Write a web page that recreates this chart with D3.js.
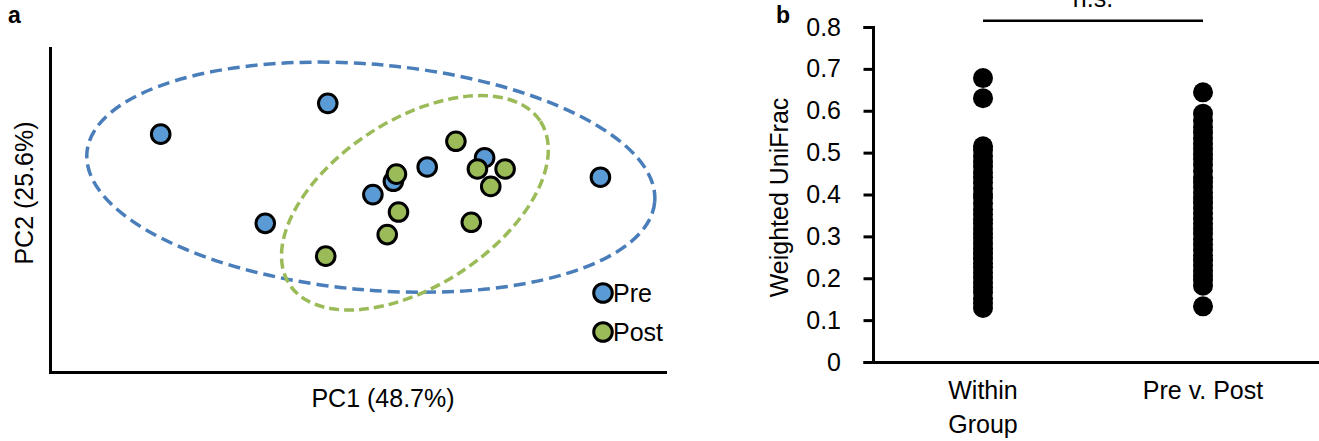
<!DOCTYPE html>
<html>
<head>
<meta charset="utf-8">
<script src="https://cdn.jsdelivr.net/npm/d3@7"></script>
<style>
  body { margin: 0; background: #fff; }
</style>
</head>
<body>
<script>
const FONT = '"Liberation Sans", Arial, Helvetica, sans-serif'

// panel a - PCoA coordinates per sample
const prePC1 = [-0.192, -0.029, -0.090, 0.124, 0.068, 0.237, 0.035, 0.015]
const prePC2 = [0.074, 0.104, -0.013, 0.051, 0.042, 0.032, 0.028, 0.015]
const postPC1 = [-0.031, 0.096, 0.117, 0.144, 0.038, 0.130, 0.040, 0.111, 0.029]
const postPC2 = [-0.045, 0.067, 0.040, 0.040, 0.035, 0.023, -0.002, -0.012, -0.024]

// confidence ellipses: centre, semi axes (PC units), angle (deg, counter-clockwise)
const preEllipse = [0.013, 0.032, 0.278, 0.110, -5]
const postEllipse = [0.056, 0.007, 0.146, 0.081, 33]

const groups = ["Pre", "Post"]
const groupFill = ["#5b9bd5", "#9bbb59"]
const groupStroke = ["#4a7ebb", "#9bbb59"]

// panel b - weighted UniFrac distances
const categoryLines = [["Within", "Group"], ["Pre v. Post"]]
const categories = categoryLines.map(l => l.join(" "))
const withinGroup = [0.678, 0.630, 0.515, 0.506, 0.492, 0.478, 0.466, 0.452, 0.441, 0.428,
  0.415, 0.401, 0.392, 0.379, 0.365, 0.353, 0.341, 0.331, 0.318, 0.306, 0.296, 0.283, 0.271,
  0.261, 0.248, 0.236, 0.226, 0.213, 0.201, 0.190, 0.178, 0.166, 0.152, 0.141, 0.129]
const preVsPost = [0.644, 0.593, 0.576, 0.561, 0.548, 0.535, 0.521, 0.510, 0.497, 0.485,
  0.471, 0.456, 0.441, 0.430, 0.418, 0.405, 0.392, 0.381, 0.368, 0.355, 0.343, 0.331, 0.318,
  0.306, 0.293, 0.281, 0.268, 0.255, 0.243, 0.231, 0.218, 0.206, 0.196, 0.182, 0.133]
const yTicks = [0, 0.1, 0.2, 0.3, 0.4, 0.5, 0.6, 0.7, 0.8]

const svg = d3.select("body").append("svg")
    .attr("width", 1319)
    .attr("height", 441)
    .style("font-family", FONT)

const styleAxis = g => g
    .attr("font-family", FONT)
    .attr("font-size", 25)
    .call(g => g.selectAll("path, line").attr("stroke", "#000").attr("stroke-width", 3).attr("stroke-linecap", "square"))
    .call(g => g.selectAll("text").attr("fill", "#000"))

// ---------- panel a ----------
const xa = d3.scaleLinear().domain([-0.3, 0.3]).range([50, 665])
const ya = d3.scaleLinear().domain([-0.158, 0.158]).range([372, 48])

svg.append("g")
    .attr("transform", `translate(0,${ya.range()[0]})`)
    .call(d3.axisBottom(xa).ticks(0).tickSizeOuter(0))
    .call(styleAxis)

svg.append("g")
    .attr("transform", `translate(${xa.range()[0]},0)`)
    .call(d3.axisLeft(ya).ticks(0).tickSizeOuter(0))
    .call(styleAxis)

const ellipses = [preEllipse, postEllipse]
svg.append("g")
    .selectAll("ellipse")
    .data(ellipses)
    .join("ellipse")
    .attr("cx", d => xa(d[0]))
    .attr("cy", d => ya(d[1]))
    .attr("rx", d => xa(d[0] + d[2]) - xa(d[0]))
    .attr("ry", d => ya(d[1]) - ya(d[1] + d[3]))
    .attr("transform", d => `rotate(${-d[4]},${xa(d[0])},${ya(d[1])})`)
    .attr("fill", "none")
    .attr("stroke", (d, i) => groupStroke[i])
    .attr("stroke-width", 3.5)
    .attr("stroke-dasharray", (d, i) => i === 0 ? "12 6" : "10 5")

const pcPoints = [
  prePC1.map((v, i) => ({ g: 0, x: v, y: prePC2[i] })),
  postPC1.map((v, i) => ({ g: 1, x: v, y: postPC2[i] }))
].flat()

svg.append("g")
    .selectAll("circle")
    .data(pcPoints)
    .join("circle")
    .attr("cx", d => xa(d.x))
    .attr("cy", d => ya(d.y))
    .attr("r", 9.3)
    .attr("fill", d => groupFill[d.g])
    .attr("stroke", "#000")
    .attr("stroke-width", 3)

const legend = svg.append("g")
    .selectAll("g")
    .data(groups)
    .join("g")
    .attr("transform", (d, i) => `translate(603,${293 + i * 39})`)

legend.append("circle")
    .attr("r", 9.3)
    .attr("fill", (d, i) => groupFill[i])
    .attr("stroke", "#000")
    .attr("stroke-width", 3)

legend.append("text")
    .attr("x", 10)
    .attr("y", 9)
    .attr("font-size", 25)
    .text(d => d)

svg.append("text")
    .attr("x", 383)
    .attr("y", 407)
    .attr("text-anchor", "middle")
    .attr("font-size", 25)
    .text("PC1 (48.7%)")

svg.append("text")
    .attr("transform", "translate(33,193) rotate(-90)")
    .attr("text-anchor", "middle")
    .attr("font-size", 25)
    .text("PC2 (25.6%)")

svg.append("text")
    .attr("x", 8)
    .attr("y", 23)
    .attr("font-size", 23)
    .attr("font-weight", "bold")
    .text("a")

// ---------- panel b ----------
const yb = d3.scaleLinear().domain([0, 0.8]).range([362, 27])
const xb = d3.scaleBand().domain(categories).range([873, 1319]).paddingOuter(0.0136).align(0)
const cx = c => xb(c) + xb.bandwidth() / 2

svg.append("g")
    .attr("transform", `translate(0,${yb(0)})`)
    .call(d3.axisBottom(xb).tickSize(0).tickSizeOuter(0).tickPadding(19))
    .call(styleAxis)
    .call(g => g.selectAll(".tick line").remove())
    .call(g => g.selectAll(".tick text").each(function(d) {
        const t = d3.select(this).text(null).attr("dy", null)
        categoryLines[categories.indexOf(d)].forEach((line, i) => {
            t.append("tspan").attr("x", 0).attr("dy", i === 0 ? "0.71em" : "1.36em").text(line)
        })
    }))

svg.append("g")
    .attr("transform", `translate(${xb.range()[0]},0)`)
    .call(d3.axisLeft(yb).tickValues(yTicks).tickSize(8).tickPadding(24)
        .tickFormat(d => d === 0 ? "0" : d3.format(".1f")(d)))
    .call(styleAxis)

const distances = [withinGroup, preVsPost]
svg.append("g")
    .selectAll("g")
    .data(distances)
    .join("g")
    .selectAll("circle")
    .data((vals, i) => vals.map(v => ({ c: categories[i], v })))
    .join("circle")
    .attr("cx", d => cx(d.c))
    .attr("cy", d => yb(d.v))
    .attr("r", 10)
    .attr("fill", "#000")

svg.append("line")
    .attr("x1", cx(categories[0]))
    .attr("x2", cx(categories[1]))
    .attr("y1", yb(0.815))
    .attr("y2", yb(0.815))
    .attr("stroke", "#000")
    .attr("stroke-width", 2.5)

// significance label, clipped at the top edge as in the source figure
svg.append("text")
    .attr("x", (cx(categories[0]) + cx(categories[1])) / 2)
    .attr("y", yb(0.848))
    .attr("text-anchor", "middle")
    .attr("font-size", 25)
    .text("n.s.")

svg.append("text")
    .attr("transform", `translate(788,${(yb(0) + yb(0.8)) / 2 + 3}) rotate(-90)`)
    .attr("text-anchor", "middle")
    .attr("font-size", 25)
    .text("Weighted UniFrac")

svg.append("text")
    .attr("x", 776)
    .attr("y", 23)
    .attr("font-size", 23)
    .attr("font-weight", "bold")
    .text("b")
</script>
</body>
</html>
